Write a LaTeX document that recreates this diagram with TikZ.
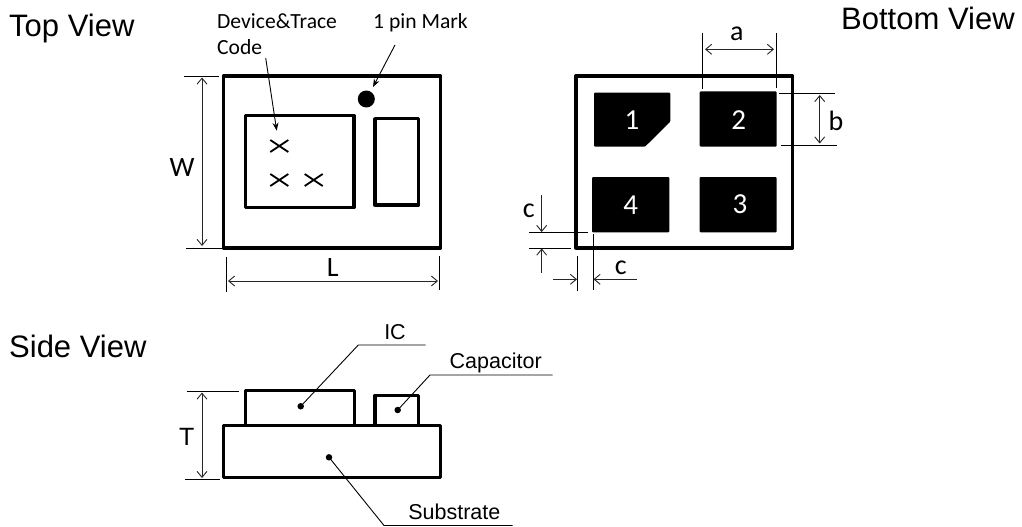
\documentclass[tikz,border=0pt]{standalone}
\usepackage{fontspec}
\setmainfont{Liberation Sans}
\newfontfamily\calib{Carlito}
\usetikzlibrary{arrows.meta}
\tikzset{
  heavy/.style={draw=black,line width=3.3pt,line join=round},
  thin line/.style={draw=black,line width=0.9pt},
  dim/.style={draw=black!85,line width=0.9pt,{Straight Barb[length=6pt,width=10pt]}-{Straight Barb[length=6pt,width=10pt]}},
  onearrow/.style={draw=black!85,line width=0.9pt,-{Straight Barb[length=6pt,width=10pt]}},
  pointer/.style={draw=black,line width=0.9pt,-{Stealth[length=8pt,width=6pt]}},
  pad/.style={fill=black,draw=none,rounded corners=1pt},
  title/.style={font=\fontsize{31}{31}\selectfont,inner sep=0pt,anchor=base west},
  dimtext/.style={font=\calib\fontsize{28}{28}\selectfont,inner sep=0pt},
  padtext/.style={font=\calib\fontsize{29}{29}\selectfont,text=white,inner sep=0pt},
  small/.style={font=\calib\fontsize{21.6}{21.6}\selectfont,inner sep=0pt,anchor=base west},
  leadtext/.style={font=\fontsize{21.5}{21.5}\selectfont,inner sep=0pt},
  leaderdot/.style={circle,fill=black,inner sep=0pt,minimum size=6.5pt},
}
\begin{document}
\begin{tikzpicture}[x=1pt,y=-1pt]
\useasboundingbox (0,0) rectangle (1022,527);
% titles
\node[title] (toptitle) at (9,37) {Top View};
\node[title] (bottomtitle) at (841,30) {Bottom View};
\node[title] (sidetitle) at (9,357) {Side View};
% top view
\node[small] (devtext) at (217,29) {Device\&Trace};
\node[small] (codetext) at (217,55) {Code};
\node[small] (pintext) at (373,29) {1 pin Mark};
\draw[heavy] (223.5,76) rectangle (440.5,248);
\draw[heavy] (245.5,115.5) rectangle (354,207.5);
\draw[heavy] (375,118.7) rectangle (418.7,205);
\fill[black] (366.3,99) circle (8.5);
\foreach \cx/\cy in {279.3/146,279.3/180,313.7/180}{
  \draw[black,line width=1.8pt] (\cx-9,\cy-6) -- (\cx+9,\cy+6) (\cx-9,\cy+6) -- (\cx+9,\cy-6);
}
\coordinate (devfrom) at (265.7,58);
\coordinate (devto) at (276.7,130.7);
\draw[pointer] (devfrom) -- (devto);
\coordinate (pinfrom) at (395,45);
\coordinate (pinto) at (373,87);
\draw[pointer] (pinfrom) -- (pinto);
\draw[thin line] (184.3,76) -- (219,76) (186,248) -- (222,248);
\coordinate (wa) at (202,77.5);
\coordinate (wb) at (202,246);
\draw[dim] (wa) -- (wb);
\node[dimtext] (w) at (182,168) {W};
\draw[thin line] (226.7,257) -- (226.7,291.7) (439,256) -- (439,290);
\coordinate (la) at (228,281);
\coordinate (lb) at (438,281);
\draw[dim] (la) -- (lb);
\node[dimtext] (l) at (332.7,267.7) {L};
% bottom view
\draw[heavy] (576,76) rectangle (792.7,248);
\fill[pad] (594,92.7) -- (670.3,92.7) -- (670.3,121.7) -- (645,146.7) -- (594,146.7) -- cycle;
\fill[pad] (699.7,91.3) rectangle (776.7,146.7);
\fill[pad] (592,177) rectangle (669.3,232.3);
\fill[pad] (699.7,177) rectangle (776.7,232.3);
\node[padtext] (p1) at (632,120.3) {1};
\node[padtext] (p2) at (738.7,120.3) {2};
\node[padtext] (p4) at (630.7,205) {4};
\node[padtext] (p3) at (740,204) {3};
\draw[thin line] (702.7,33) -- (702.7,88.7) (776.3,33) -- (776.3,88);
\coordinate (aa) at (705,49.3);
\coordinate (ab) at (774,49.3);
\draw[dim] (aa) -- (ab);
\node[dimtext] (atext) at (736.7,34) {a};
\draw[thin line] (779,93.3) -- (835,93.3) (781,145.3) -- (837,145.3);
\coordinate (ba) at (819.7,95);
\coordinate (bb) at (819.7,143.5);
\draw[dim] (ba) -- (bb);
\node[dimtext] (btext) at (836,121) {b};
\draw[thin line] (529,232.3) -- (587.7,232.3) (529,248) -- (571,248);
\coordinate (c1a) at (541.7,195);
\coordinate (c1b) at (541.7,232);
\coordinate (c1c) at (541.7,272.7);
\coordinate (c1d) at (541.7,248.5);
\draw[onearrow] (c1a) -- (c1b);
\draw[onearrow] (c1c) -- (c1d);
\node[dimtext] (c1text) at (528.7,211) {c};
\draw[thin line] (577.3,256) -- (577.3,290.7) (593.3,234.3) -- (593.3,290);
\coordinate (c2a) at (553,279.3);
\coordinate (c2b) at (577,279.3);
\coordinate (c2c) at (636.7,279.3);
\coordinate (c2d) at (593.5,279.3);
\draw[onearrow] (c2a) -- (c2b);
\draw[onearrow] (c2c) -- (c2d);
\node[dimtext] (c2text) at (620.7,268) {c};
% side view
\draw[heavy] (245.3,425) |- (354.3,390.7) -- (354.3,425);
\draw[heavy] (375,425) |- (418.7,395.3) -- (418.7,425);
\draw[heavy] (223.5,425.3) rectangle (440.5,477.7);
\draw[thin line] (186.7,391) -- (238.7,391) (185,479.3) -- (220,479.3);
\coordinate (ta) at (202,392.5);
\coordinate (tb) at (202,478);
\draw[dim] (ta) -- (tb);
\node[leadtext,font=\fontsize{25}{25}\selectfont] (t) at (186.7,436.7) {T};
\node[leaderdot] (icdot) at (300.7,406.3) {};
\coordinate (ice) at (358.3,345);
\coordinate (icf) at (425.7,345);
\draw[thin line] (icdot.center) -- (ice) -- (icf);
\node[leadtext] (ictext) at (395,331.7) {IC};
\node[leaderdot] (capdot) at (397.7,410) {};
\coordinate (cape) at (430,375);
\coordinate (capf) at (552.7,375);
\draw[thin line] (capdot.center) -- (cape) -- (capf);
\node[leadtext] (captext) at (495.7,363.3) {Capacitor};
\node[leaderdot] (subdot) at (329,457.3) {};
\coordinate (sube) at (384,525.5);
\coordinate (subf) at (512.7,525.5);
\draw[thin line] (subdot.center) -- (sube) -- (subf);
\node[leadtext] (subtext) at (454.3,511.5) {Substrate};
\end{tikzpicture}
\end{document}
